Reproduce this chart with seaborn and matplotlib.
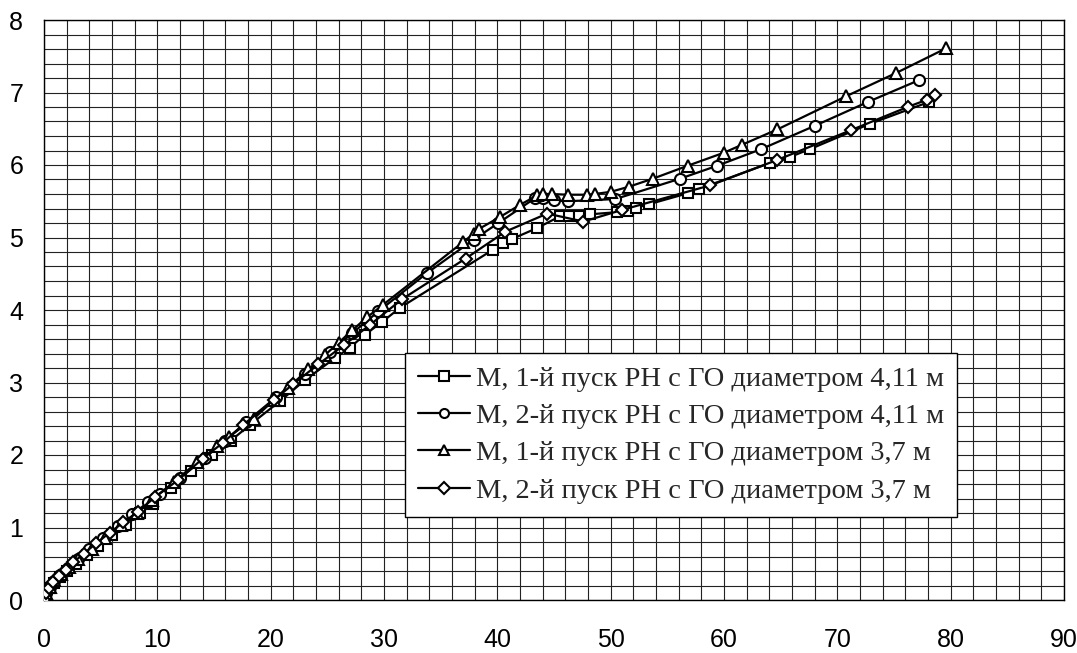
import numpy as np
import pandas as pd
import seaborn as sns
import matplotlib.pyplot as plt

# series: M (y) vs x, four launches
x_sq = [0, 0.2, 0.5, 0.9, 1.4, 2.0, 2.8, 3.8, 4.8, 6.0, 7.2, 8.5, 9.6, 11.2, 13.0, 14.8, 16.5, 18.2,
        20.8, 23.0, 25.7, 27.0, 28.3, 29.8, 31.4, 39.6, 40.5, 41.3, 43.5, 45.5, 46.3, 47.2, 48.2,
        50.6, 51.5, 52.2, 53.4, 56.8, 57.8, 64.1, 65.8, 67.6, 72.9, 78.1]
y_sq = [0, 0.08, 0.16, 0.24, 0.32, 0.4, 0.5, 0.62, 0.75, 0.9, 1.03, 1.2, 1.32, 1.55, 1.78, 2.0, 2.2, 2.42,
        2.74, 3.03, 3.34, 3.48, 3.66, 3.83, 4.03, 4.83, 4.92, 4.98, 5.13, 5.29, 5.3, 5.3, 5.32,
        5.35, 5.37, 5.41, 5.46, 5.61, 5.67, 6.03, 6.11, 6.22, 6.57, 6.87]

x_ci = [0, 0.2, 0.5, 0.9, 1.4, 2.1, 3.0, 4.0, 5.2, 6.5, 7.8, 9.2, 10.2, 12.0, 14.2, 16.0, 17.8, 20.5,
        23.0, 25.2, 27.2, 29.5, 33.8, 37.9, 40.1, 43.3, 44.0, 45.0, 46.2, 50.4, 56.1, 59.4, 63.3,
        68.0, 72.7, 77.2]
y_ci = [0, 0.09, 0.18, 0.26, 0.34, 0.44, 0.57, 0.7, 0.85, 1.02, 1.18, 1.35, 1.46, 1.68, 1.96, 2.2, 2.45, 2.8,
        3.12, 3.42, 3.68, 3.98, 4.51, 4.97, 5.2, 5.54, 5.55, 5.52, 5.5, 5.53, 5.81, 5.99, 6.22,
        6.54, 6.87, 7.17]

x_tr = [0, 0.2, 0.5, 0.9, 1.5, 2.2, 3.0, 4.2, 5.4, 6.8, 8.2, 9.5, 11.5, 13.5, 15.3, 16.3, 18.5, 20.3,
        21.5, 23.3, 24.8, 26.0, 27.2, 28.5, 29.9, 37.0, 37.9, 38.4, 40.2, 42.0, 43.5, 44.0, 44.8,
        46.2, 47.9, 48.6, 50.0, 51.6, 53.7, 56.8, 60.0, 61.6, 64.7, 70.8, 75.2, 79.6]
y_tr = [0, 0.1, 0.18, 0.27, 0.36, 0.46, 0.57, 0.71, 0.86, 1.04, 1.2, 1.38, 1.63, 1.9, 2.12, 2.25, 2.5, 2.76,
        2.92, 3.18, 3.38, 3.55, 3.72, 3.9, 4.07, 4.94, 5.05, 5.12, 5.28, 5.45, 5.58, 5.6, 5.6,
        5.59, 5.59, 5.6, 5.63, 5.7, 5.81, 5.99, 6.17, 6.28, 6.49, 6.95, 7.27, 7.61]

x_di = [0, 0.2, 0.4, 0.8, 1.3, 1.9, 2.6, 3.5, 4.6, 5.8, 7.0, 8.3, 9.8, 11.8, 14.0, 15.8, 17.6, 20.3,
        22.0, 24.2, 26.5, 28.8, 31.6, 37.2, 40.7, 44.4, 47.6, 51.0, 58.8, 64.7, 71.2, 76.2, 77.9, 78.6]
y_di = [0, 0.1, 0.17, 0.25, 0.33, 0.42, 0.52, 0.64, 0.78, 0.93, 1.07, 1.22, 1.42, 1.65, 1.95, 2.17, 2.42, 2.76,
        2.98, 3.25, 3.52, 3.8, 4.15, 4.71, 5.08, 5.33, 5.22, 5.38, 5.72, 6.07, 6.48, 6.8, 6.9, 6.96]

labels = [
    'М, 1-й пуск РН с ГО диаметром 4,11 м',
    'М, 2-й пуск РН с ГО диаметром 4,11 м',
    'М, 1-й пуск РН с ГО диаметром 3,7 м',
    'М, 2-й пуск РН с ГО диаметром 3,7 м',
]
markers = ['s', 'o', '^', 'D']
msizes = [7.5, 8, 8.5, 6.5]

sns.set_style('white')
plt.rcParams['font.family'] = ['Liberation Sans Narrow', 'Liberation Sans', 'DejaVu Sans']

fig = plt.figure(figsize=(10.77, 6.53), dpi=100)
ax = fig.add_axes([44 / 1077, 53 / 653, 1020 / 1077, 580 / 653])

series = [(x_sq, y_sq), (x_ci, y_ci), (x_tr, y_tr), (x_di, y_di)]
for (xs, ys), lab, mk, ms in zip(series, labels, markers, msizes):
    df = pd.DataFrame({'x': xs, 'y': ys})
    sns.lineplot(data=df, x='x', y='y', ax=ax, sort=False, color='black', linewidth=1.6,
                 marker=mk, markersize=ms, markerfacecolor='white', markeredgecolor='black',
                 markeredgewidth=1.5, label=lab, zorder=3)

ax.set_xlim(0, 90)
ax.set_ylim(0, 8)
ax.set_xticks(np.arange(0, 91, 10))
ax.set_yticks(np.arange(0, 9, 1))
ax.set_xticks(np.arange(0, 91, 2), minor=True)
ax.set_yticks(np.arange(0, 8.01, 0.2), minor=True)
ax.grid(which='both', color='#222222', linewidth=0.8)
ax.tick_params(which='minor', length=0)
ax.tick_params(which='major', length=6, width=0.8, direction='out', labelsize=18, colors='black')
ax.tick_params(axis='x', pad=14)
ax.tick_params(axis='y', pad=9)
ax.set_xlabel('')
ax.set_ylabel('')
for s in ax.spines.values():
    s.set_color('black')
    s.set_linewidth(1)

leg = ax.legend(loc='upper left', bbox_to_anchor=(361 / 1020, 1 - (353 - 20) / 580),
                prop={'family': 'Liberation Serif', 'size': 20.5}, frameon=True, fancybox=False,
                framealpha=1, edgecolor='black', handlelength=1.85, handletextpad=0.2,
                labelspacing=0.4, borderpad=0.45, borderaxespad=0)
leg.get_frame().set_linewidth(1)
for h in leg.legend_handles:
    h.set_markersize(6.5)

fig.savefig('out.png', dpi=100)
